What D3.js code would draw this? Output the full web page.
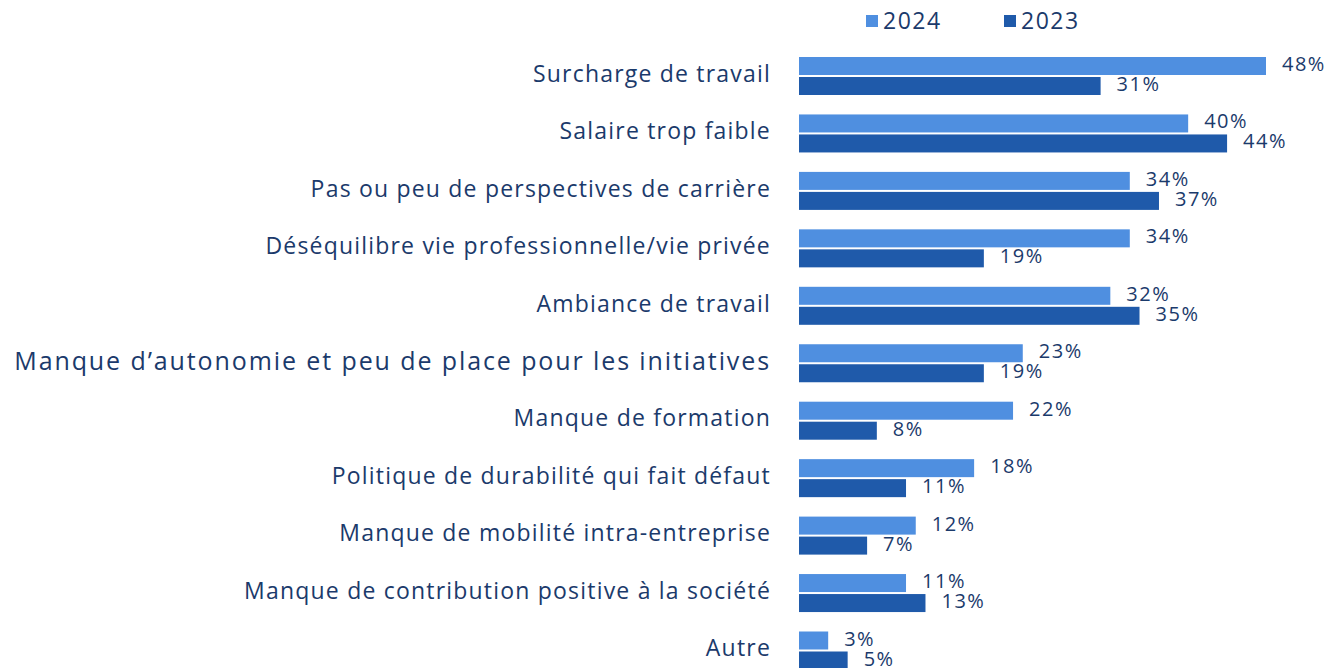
<!DOCTYPE html>
<html><head><meta charset="utf-8">
<script src="https://cdn.jsdelivr.net/npm/d3@7"></script>
<style>body{margin:0;background:#fff}svg{display:block}</style>
</head><body>
<script>
const categories = [
  "Surcharge de travail",
  "Salaire trop faible",
  "Pas ou peu de perspectives de carrière",
  "Déséquilibre vie professionnelle/vie privée",
  "Ambiance de travail",
  "Manque d’autonomie et peu de place pour les initiatives",
  "Manque de formation",
  "Politique de durabilité qui fait défaut",
  "Manque de mobilité intra-entreprise",
  "Manque de contribution positive à la société",
  "Autre"
];
const seriesNames = ["2024", "2023"];
const values2024 = [48, 40, 34, 34, 32, 23, 22, 18, 12, 11, 3];
const values2023 = [31, 44, 37, 19, 35, 19, 8, 11, 7, 13, 5];
const colors = ["#4F8FE0", "#1F5AAA"];

const W = 1329, H = 668;
const svg = d3.select("body").append("svg").attr("width", W).attr("height", H);
const textColor = "#1B3A6B";
const font = "'Open Sans', sans-serif";

const x = d3.scaleLinear().domain([0, 48]).range([799, 1266]);
const y = d3.scaleBand().domain(categories).range([57, 669.5]).paddingInner(19.45/57.45).paddingOuter(0);
const ySub = d3.scaleBand().domain(seriesNames).range([0, y.bandwidth()]).paddingInner(0.1).paddingOuter(0);

const data = categories.map((c, i) => ({cat: c, vals: [values2024[i], values2023[i]]}));

const g = svg.append("g").selectAll("g").data(data).join("g")
  .attr("transform", d => `translate(0,${y(d.cat)})`);

g.selectAll("rect").data(d => d.vals.map((v, k) => ({v, s: seriesNames[k], k})))
  .join("rect")
  .attr("x", x(0))
  .attr("y", d => ySub(d.s))
  .attr("width", d => x(d.v) - x(0))
  .attr("height", ySub.bandwidth())
  .attr("fill", d => colors[d.k]);

g.selectAll("text.val").data(d => d.vals.map((v, k) => ({v, s: seriesNames[k], k})))
  .join("text").attr("class", "val")
  .attr("x", d => x(d.v) + 16)
  .attr("y", d => ySub(d.s) + ySub.bandwidth()/2 - 2)
  .attr("dy", "0.35em")
  .attr("font-family", font).attr("font-size", 20)
  .attr("letter-spacing", "1.5px")
  .attr("fill", textColor)
  .text(d => d.v + "%");

// category labels via axis
const axis = d3.axisLeft(y).tickSize(0).tickPadding(0);
const ax = svg.append("g").attr("transform", `translate(771,0)`).call(axis);
ax.select(".domain").remove();
ax.selectAll("text").attr("font-family", font).attr("font-size", 23).attr("fill", textColor)
  .attr("letter-spacing", "1.2px")
  .attr("dy", "0.25em");
// the long label is set larger in the reference
ax.selectAll("text").filter(d => d === categories[5])
  .attr("font-size", 25).attr("letter-spacing", "1.9px");

// legend
const legendX = [866, 1004];
const leg = svg.append("g").selectAll("g").data(seriesNames).join("g")
  .attr("transform", (d, i) => `translate(${legendX[i]},0)`);
leg.append("rect").attr("x", 0).attr("y", 15).attr("width", 12).attr("height", 12)
  .attr("fill", (d, i) => colors[i]);
leg.append("text").attr("x", 17).attr("y", 21).attr("dy", "0.35em")
  .attr("font-family", font).attr("font-size", 23).attr("letter-spacing", "1.5px")
  .attr("fill", textColor).text(d => d);
</script>
</body></html>
